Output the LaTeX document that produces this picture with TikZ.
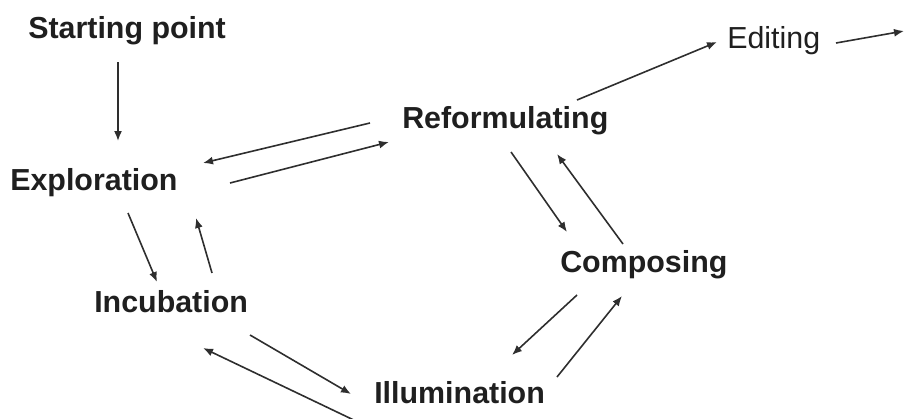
\documentclass[tikz,border=0pt]{standalone}
\usepackage{fontspec}
\setmainfont{Liberation Sans}
\usepackage{tikz}
\usetikzlibrary{arrows.meta,calc}

\begin{document}
\begin{tikzpicture}[x=0.75pt,y=0.75pt,yscale=-1,xscale=1,
  lbl/.style={anchor=base west,inner sep=0.75pt,text=black!88,font=\bfseries\fontsize{22.8}{27}\selectfont},
  flow/.style={-{Latex[length=7.5pt,width=6pt]},line width=1.2pt,draw=black!82}]

\useasboundingbox (0,0) rectangle (906,418);

% stages
\draw (27,38) node [lbl] (start) {Starting point};
\draw (9,190) node [lbl] (explo) {Exploration};
\draw (401,128) node [lbl] (reform) {Reformulating};
\draw (726,48) node [lbl,font=\mdseries\fontsize{22.8}{27}\selectfont] (edit) {Editing};
\draw (559,272) node [lbl] (comp) {Composing};
\draw (93,312) node [lbl] (incub) {Incubation};
\draw (373,403) node [lbl] (illum) {Illumination};

\coordinate (out) at (904,31);
\coordinate (below) at (360,423);

% arrows
\draw [flow] ($(start.base west)+(91,24)$) -- ($(explo.base west)+(109,-49)$);

\draw [flow] ($(reform.base west)+(-31,-5)$) -- ($(explo.base west)+(194,-27)$);
\draw [flow] ($(explo.base west)+(221,-7)$) -- ($(reform.base west)+(-12,14)$);

\draw [flow] ($(reform.base west)+(176,-28)$) -- ($(edit.base west)+(-9,-6)$);
\draw [flow] ($(edit.base west)+(110,-5)$) -- (out);

\draw [flow] ($(reform.base west)+(110,24)$) -- ($(comp.base west)+(8,-40)$);
\draw [flow] ($(comp.base west)+(64,-28)$) -- ($(reform.base west)+(156,26)$);

\draw [flow] ($(comp.base west)+(18,23)$) -- ($(illum.base west)+(139,-48)$);
\draw [flow] ($(illum.base west)+(184,-26)$) -- ($(comp.base west)+(63,24)$);

\draw [flow] ($(explo.base west)+(119,23)$) -- ($(incub.base west)+(64,-30)$);
\draw [flow] ($(incub.base west)+(119,-39)$) -- ($(explo.base west)+(187,28)$);

\draw [flow] ($(incub.base west)+(157,23)$) -- ($(illum.base west)+(-22,-9)$);
\draw [flow] (below) -- ($(incub.base west)+(110,36)$);

\end{tikzpicture}
\end{document}
